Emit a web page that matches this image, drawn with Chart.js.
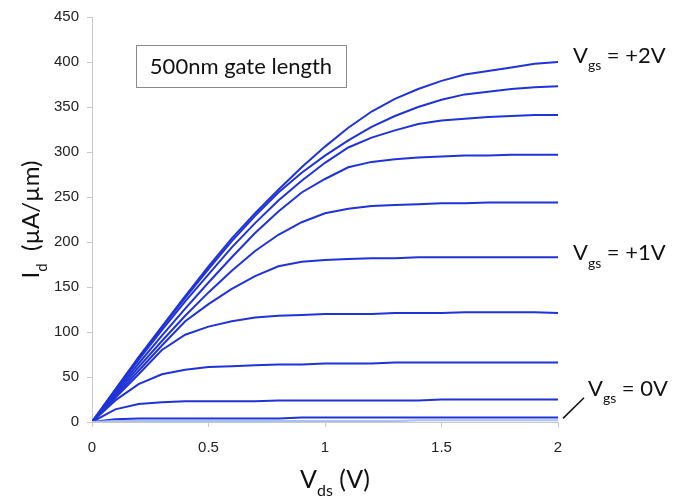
<!DOCTYPE html>
<html>
<head>
<meta charset="utf-8">
<script src="https://cdn.jsdelivr.net/npm/chart.js@4"></script>
<style>
html, body { margin: 0; padding: 0; background: #fff; }
</style>
</head>
<body>
<canvas id="ivChart" width="674" height="501"></canvas>
<script>
// drain voltage (V)
var vds = [0, 0.1, 0.2, 0.3, 0.4, 0.5, 0.6, 0.7, 0.8, 0.9, 1.0, 1.1, 1.2, 1.3, 1.4, 1.5, 1.6, 1.7, 1.8, 1.9, 2.0];

// drain current (uA/um), one array per gate voltage
var idVgs00 = [0, 1, 1, 1, 1, 1, 1, 1, 1, 1, 1, 1, 1, 1, 2, 2, 2, 2, 2, 2, 2];
var idVgs02 = [0, 3, 4, 4, 4, 4, 4, 4, 4, 5, 5, 5, 5, 5, 5, 5, 5, 5, 5, 5, 5];
var idVgs04 = [0, 14, 20, 22, 23, 23, 23, 23, 24, 24, 24, 24, 24, 24, 24, 25, 25, 25, 25, 25, 25];
var idVgs06 = [0, 24, 42, 53, 58, 61, 62, 63, 64, 64, 65, 65, 65, 66, 66, 66, 66, 66, 66, 66, 66];
var idVgs08 = [0, 27, 53, 80, 97, 106, 112, 116, 118, 119, 120, 120, 120, 121, 121, 121, 122, 122, 122, 122, 121];
var idVgs10 = [0, 29, 57, 85, 112, 131, 148, 162, 173, 178, 180, 181, 182, 182, 183, 183, 183, 183, 183, 183, 183];
var idVgs12 = [0, 31, 61, 90, 118, 144, 168, 190, 208, 222, 232, 237, 240, 241, 242, 243, 243, 244, 244, 244, 244];
var idVgs14 = [0, 33, 65, 96, 126, 155, 183, 210, 234, 255, 270, 283, 289, 292, 294, 295, 296, 296, 297, 297, 297];
var idVgs16 = [0, 35, 69, 102, 134, 164, 194, 221, 246, 268, 288, 305, 316, 324, 331, 335, 337, 339, 340, 341, 341];
var idVgs18 = [0, 36, 71, 105, 138, 170, 201, 229, 255, 277, 296, 313, 328, 340, 350, 358, 364, 367, 370, 372, 373];
var idVgs20 = [0, 36, 72, 106, 140, 173, 204, 232, 258, 283, 306, 327, 345, 359, 370, 379, 386, 390, 394, 398, 400];

var xTicks = [0, 0.5, 1, 1.5, 2];
var yMax = 450;

var curves = [idVgs00, idVgs02, idVgs04, idVgs06, idVgs08, idVgs10, idVgs12, idVgs14, idVgs16, idVgs18, idVgs20];

var textFont = 'Lato, "DejaVu Sans", sans-serif';

function toPoints(arr) {
    return vds.map(function(v, i) { return { x: v, y: arr[i] }; });
}

var datasets = curves.map(function(arr, i) {
    return {
        data: toPoints(arr),
        borderColor: i === 0 ? '#a9c0f2' : '#1f33d8',
        borderWidth: 2,
        pointRadius: 0,
        tension: 0,
        fill: false
    };
});

// text with a subscript, drawn left to right from x
function subText(ctx, x, y, main, sub, rest, size) {
    var subSize = Math.round(size * 0.64);
    ctx.font = size + 'px ' + textFont;
    var w1 = ctx.measureText(main).width;
    ctx.font = subSize + 'px ' + textFont;
    var w2 = ctx.measureText(sub).width;
    ctx.font = size + 'px ' + textFont;
    var w3 = ctx.measureText(rest).width;
    return {
        width: w1 + w2 + w3,
        draw: function() {
            ctx.textAlign = 'left';
            ctx.textBaseline = 'alphabetic';
            ctx.font = size + 'px ' + textFont;
            ctx.fillText(main, x, y);
            ctx.font = subSize + 'px ' + textFont;
            ctx.fillText(sub, x + w1, y + size * 0.33);
            ctx.font = size + 'px ' + textFont;
            ctx.fillText(rest, x + w1 + w2, y);
        }
    };
}

var annotations = {
    id: 'annotations',
    afterDraw: function(chart) {
        var ctx = chart.ctx;
        var xs = chart.scales.x, ys = chart.scales.y;
        var area = chart.chartArea;
        ctx.save();
        ctx.fillStyle = '#111';

        // gate voltage labels next to line ends
        var xEnd = xs.getPixelForValue(2);
        subText(ctx, xEnd + 15, ys.getPixelForValue(400) + 1, 'V', 'gs', ' = +2V', 22).draw();
        subText(ctx, xEnd + 15, ys.getPixelForValue(183) + 3, 'V', 'gs', ' = +1V', 22).draw();
        subText(ctx, xEnd + 30, ys.getPixelForValue(30) + 1, 'V', 'gs', ' = 0V', 22).draw();
        ctx.strokeStyle = '#111';
        ctx.lineWidth = 1.5;
        ctx.beginPath();
        ctx.moveTo(xEnd + 5, ys.getPixelForValue(4));
        ctx.lineTo(xEnd + 26, ys.getPixelForValue(27));
        ctx.stroke();

        // gate length box
        ctx.strokeStyle = '#8a8a8a';
        ctx.lineWidth = 1;
        ctx.strokeRect(136.5, 45.5, 210, 42);
        ctx.font = '22px ' + textFont;
        ctx.textAlign = 'center';
        ctx.fillText('500nm gate length', 241, 74);

        // x axis title
        var xt = subText(ctx, 0, 0, 'V', 'ds', ' (V)', 25);
        var cx = (area.left + area.right) / 2 + 10;
        subText(ctx, cx - xt.width / 2, 488, 'V', 'ds', ' (V)', 25).draw();

        // y axis title, rotated
        ctx.translate(39, (area.top + area.bottom) / 2);
        ctx.rotate(-Math.PI / 2);
        var yt = subText(ctx, 0, 0, 'I', 'd', '  (\u00b5A/\u00b5m)', 24);
        subText(ctx, -yt.width / 2, 0, 'I', 'd', '  (\u00b5A/\u00b5m)', 24).draw();
        ctx.restore();
    }
};

var ctx = document.getElementById('ivChart').getContext('2d');
var ivChart = new Chart(ctx, {
    type: 'line',
    data: { datasets: datasets },
    options: {
        responsive: false,
        animation: false,
        layout: { padding: { top: 12, right: 116, left: 0, bottom: 0 } },
        plugins: {
            legend: { display: false },
            tooltip: { enabled: false }
        },
        scales: {
            x: {
                type: 'linear',
                min: 0,
                max: 2,
                afterFit: function(scale) { scale.height = 79; },
                afterBuildTicks: function(scale) {
                    scale.ticks = xTicks.map(function(v) { return { value: v }; });
                },
                grid: { drawOnChartArea: false, tickLength: 5, color: '#c8c8c8' },
                border: { color: '#c8c8c8' },
                ticks: {
                    padding: 12,
                    color: '#222',
                    font: { family: '"Liberation Sans", Arial', size: 15 },
                    callback: function(value) { return String(value); }
                }
            },
            y: {
                min: 0,
                max: yMax,
                afterFit: function(scale) { scale.width = 92; },
                grid: { drawOnChartArea: false, tickLength: 5, color: '#c8c8c8' },
                border: { color: '#c8c8c8' },
                ticks: {
                    stepSize: 50,
                    padding: 8,
                    color: '#222',
                    font: { family: '"Liberation Sans", Arial', size: 15 }
                }
            }
        }
    },
    plugins: [annotations]
});
</script>
</body>
</html>
